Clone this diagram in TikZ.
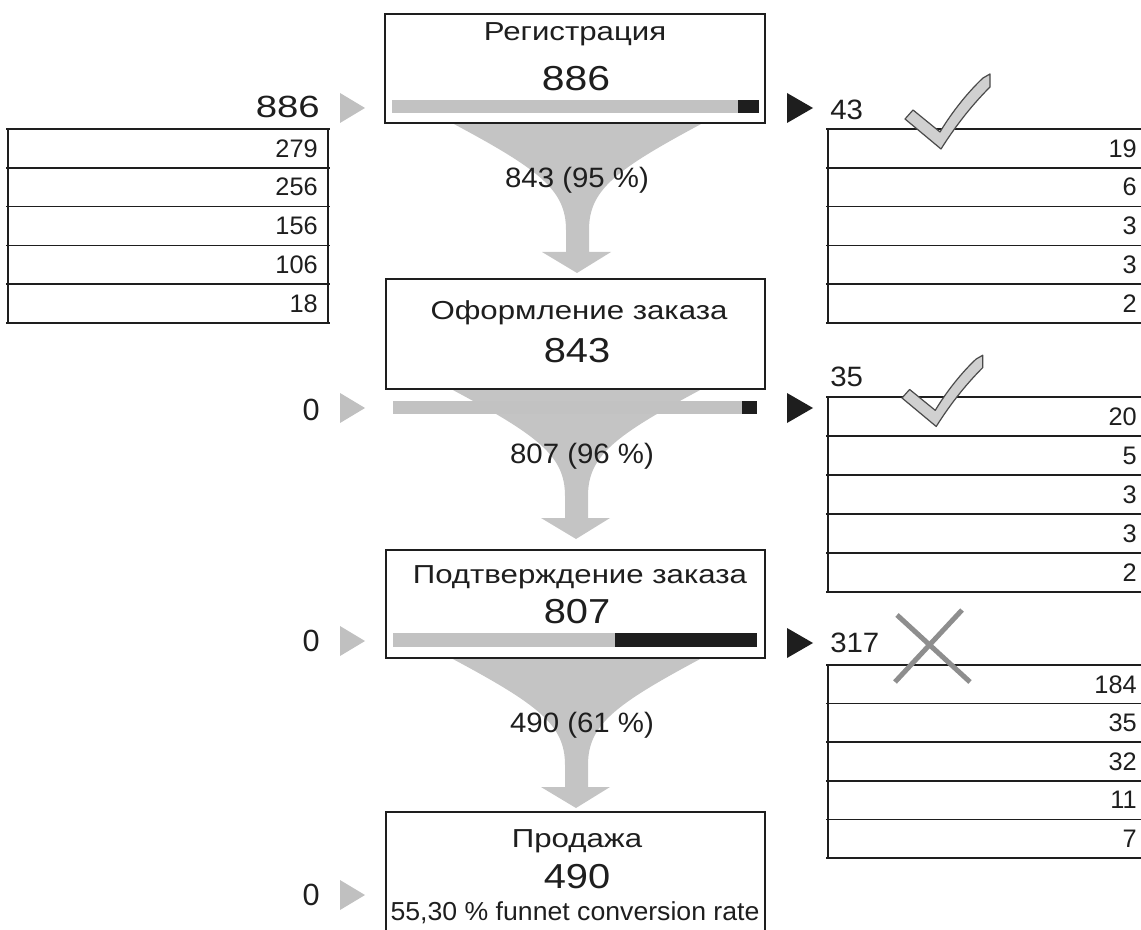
\documentclass[tikz,border=0pt]{standalone}
\usepackage{fontspec}
\usepackage{graphicx}
\setmainfont{Liberation Sans}
\usetikzlibrary{calc,backgrounds}
\definecolor{ink}{HTML}{1E1E1E}
\definecolor{fun}{HTML}{C4C4C4}
\definecolor{barg}{HTML}{C2C2C2}
\definecolor{tri}{HTML}{C0C0C0}
\definecolor{xg}{HTML}{8E8E8E}
\definecolor{chkf}{HTML}{D0D0D0}
\definecolor{chkd}{HTML}{4A4A4A}
\newcommand\sx[2]{\scalebox{#1}[1]{#2}}
\begin{document}
\begin{tikzpicture}[x=0.75pt,y=-0.75pt,
  box/.style={draw=ink, line width=1.2pt, fill=white, inner sep=0pt, outer sep=0pt},
  ttl/.style={text=ink, inner sep=0pt, anchor=base, font=\fontsize{19.5}{22}\selectfont},
  big/.style={text=ink, inner sep=0pt, anchor=base, font=\fontsize{26}{30}\selectfont},
  flab/.style={text=ink, inner sep=0pt, anchor=base, font=\fontsize{21}{24}\selectfont},
  rate/.style={text=ink, inner sep=0pt, anchor=base, font=\fontsize{19.5}{22}\selectfont},
  num/.style={text=ink, inner sep=0pt, font=\fontsize{19}{22}\selectfont},
  side/.style={text=ink, inner sep=0pt, font=\fontsize{23}{26}\selectfont},
  rlab/.style={text=ink, inner sep=0pt, font=\fontsize{21}{24}\selectfont},
  tline/.style={draw=ink, line width=1.2pt},
  funnel/.pic={\fill[fun] (-125,0) .. controls (-37,47) and (-11,67) .. (-11,107) -- (-11,129) -- (-35,129) -- (0,150) -- (34,129) -- (12,129) -- (12,107) .. controls (12,67) and (38,47) .. (126,0) -- cycle;},
  chk/.pic={\filldraw[fill=chkf, draw=chkd, line width=0.9pt, line join=round] (0,0) -- (8,-9) -- (35,13) .. controls (47,-7) and (63,-27) .. (78,-41) -- (85,-45) -- (85,-32) .. controls (70,-17) and (53,3) .. (36,30) -- cycle;},
  gtri/.pic={\fill[tri] (0,-15) -- (25,0) -- (0,15) -- cycle;},
  btri/.pic={\fill[ink] (0,-15) -- (26,0) -- (0,15) -- cycle;}
]
\useasboundingbox (0,0) rectangle (1141,930);
\clip (0,0) rectangle (1141,930);

% boxes
\node[box, minimum width=285pt, minimum height=81.75pt] (b1) at (575,68.5) {};
\node[box, minimum width=284.25pt, minimum height=82.5pt] (b2) at (575.5,334) {};
\node[box, minimum width=284.25pt, minimum height=81pt] (b3) at (575.5,604) {};
\node[box, minimum width=284.25pt, minimum height=96pt] (b4) at (575.5,876) {};

% funnels (behind)
\begin{scope}[on background layer]
  \pic at ($(b1.south)+(2,0)$) {funnel};
  \pic at ($(b2.south)+(0.5,0)$) {funnel};
  \pic at ($(b3.south)+(0.5,0)$) {funnel};
\end{scope}

% bars
\fill[barg] (392,100) rectangle (738,113);
\fill[ink] (738,100) rectangle (759,113);
\fill[barg] (393,401) rectangle (742,414);
\fill[ink] (742,401) rectangle (757,414);
\fill[barg] (393,633) rectangle (615,647);
\fill[ink] (615,633) rectangle (757,647);

% box texts
\node[ttl] (t1) at (575,41) {\sx{1.2}{Регистрация}};
\node[big] (n1) at (576,91) {\sx{1.18}{886}};
\node[flab] (p1) at (577,188) {\sx{1.05}{843 (95 \%)}};
\node[ttl] (t2) at (579,320) {\sx{1.2}{Оформление заказа}};
\node[big] (n2) at (577,362) {\sx{1.15}{843}};
\node[flab] (p2) at (582,463) {\sx{1.05}{807 (96 \%)}};
\node[ttl] (t3) at (580,583) {\sx{1.2}{Подтверждение заказа}};
\node[big] (n3) at (577,623) {\sx{1.15}{807}};
\node[flab] (p3) at (582,732) {\sx{1.05}{490 (61 \%)}};
\node[ttl] (t4) at (577,847) {\sx{1.2}{Продажа}};
\node[big] (n4) at (577,888) {\sx{1.15}{490}};
\node[rate] (r4) at (575,920) {\sx{1.025}{55,30 \% funnet conversion rate}};

% left side markers
\node[side, anchor=east] (l1) at (320,107) {\sx{1.25}{886}};
\node[side, anchor=east] (l2) at (320,410) {0};
\node[side, anchor=east] (l3) at (320,641) {0};
\node[side, anchor=east] (l4) at (320,895) {0};
\pic at (340,108) {gtri};
\pic at (340,408) {gtri};
\pic at (340,641) {gtri};
\pic at (340,895) {gtri};

% right side markers
\pic at (787,108) {btri};
\pic at (787,408) {btri};
\pic at (787,643) {btri};
\node[rlab, anchor=west] (r1) at (830,110) {\sx{1.05}{43}};
\node[rlab, anchor=west] (r2) at (830,377) {\sx{1.05}{35}};
\node[rlab, anchor=west] (r3) at (830,643) {\sx{1.05}{317}};

% left table
\foreach \k in {0,...,5} \draw[tline] (6,{129+\k*38.8}) -- (330,{129+\k*38.8});
\draw[tline] (8,129) -- (8,323);
\draw[tline] (328,129) -- (328,323);
\foreach \v [count=\i] in {279,256,156,106,18}
  \node[num, anchor=east] (L\i) at (318,{129+(\i-0.5)*38.8}) {\v};

% right table 1
\foreach \k in {0,...,5} \draw[tline] (826,{129+\k*38.8}) -- (1145,{129+\k*38.8});
\draw[tline] (828,129) -- (828,323);
\foreach \v [count=\i] in {19,6,3,3,2}
  \node[num, anchor=east] (A\i) at (1137,{129+(\i-0.5)*38.8}) {\v};

% right table 2
\foreach \k in {0,...,5} \draw[tline] (826,{397+\k*39}) -- (1145,{397+\k*39});
\draw[tline] (828,397) -- (828,592);
\foreach \v [count=\i] in {20,5,3,3,2}
  \node[num, anchor=east] (B\i) at (1137,{397+(\i-0.5)*39}) {\v};

% right table 3
\foreach \k in {0,...,5} \draw[tline] (826,{665+\k*38.6}) -- (1145,{665+\k*38.6});
\draw[tline] (828,665) -- (828,858);
\foreach \v [count=\i] in {184,35,32,11,7}
  \node[num, anchor=east] (C\i) at (1137,{665+(\i-0.5)*38.6}) {\v};

% check marks and cross
\pic at (905,119) {chk};
\pic[scale=0.95] at (902,398) {chk};
\draw[xg, line width=3.75pt] (897,615) -- (970,682);
\draw[xg, line width=3.75pt] (962,610) -- (895,682);
\end{tikzpicture}
\end{document}
